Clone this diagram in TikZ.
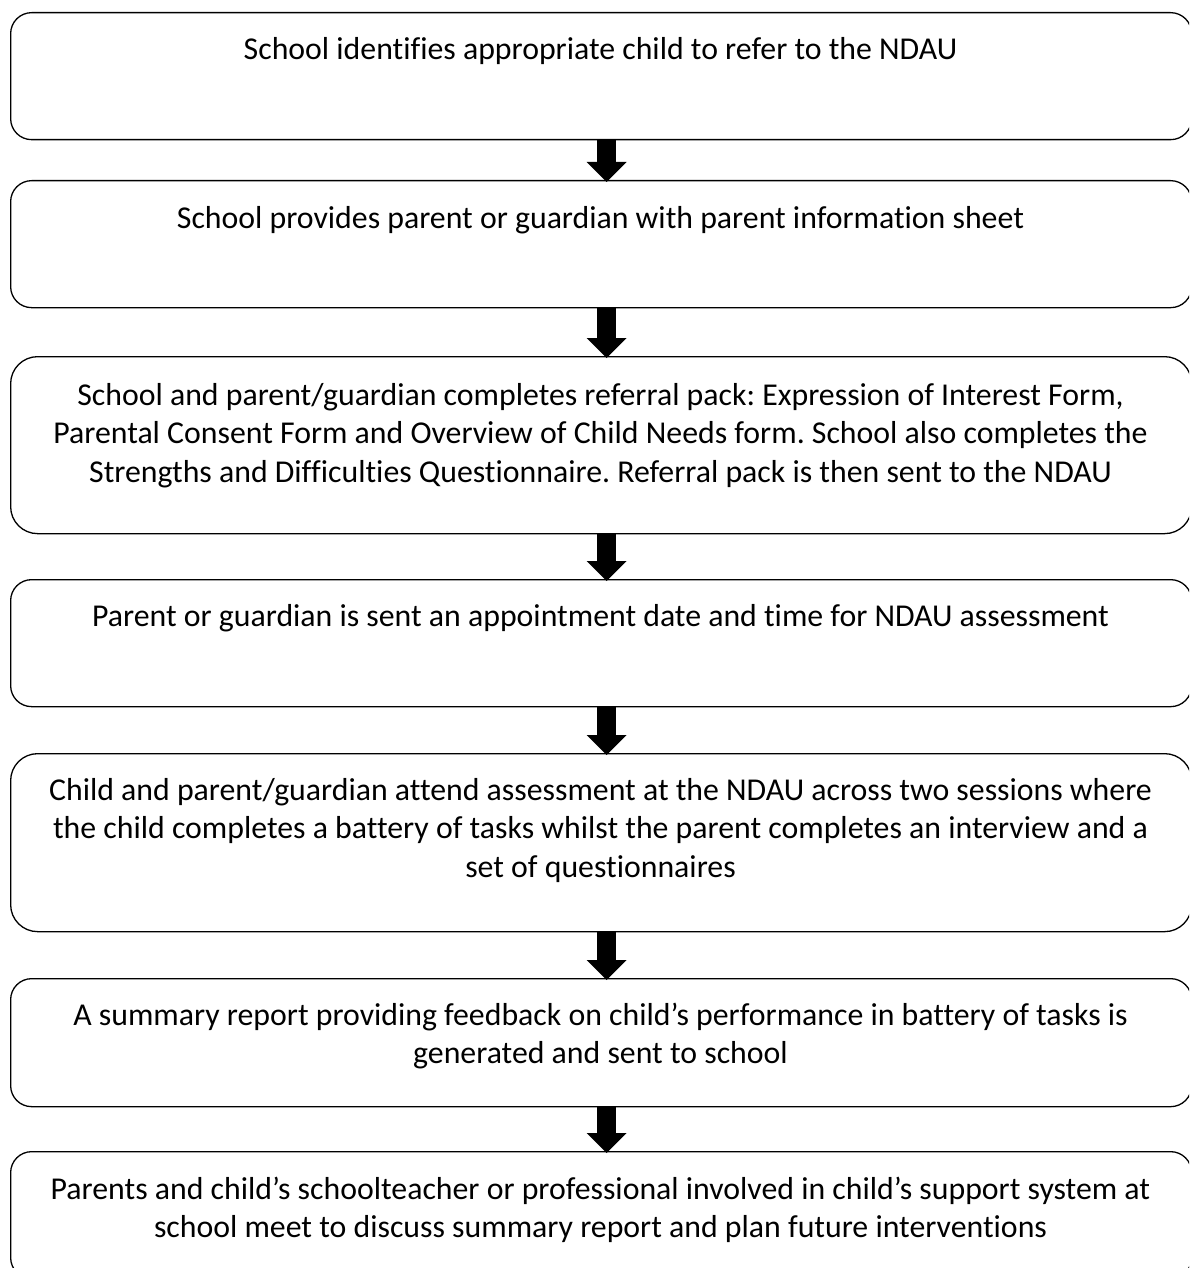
\documentclass[tikz,border=0pt]{standalone}
\usepackage{fontspec}
\setmainfont[Ligatures=NoCommon]{Carlito}
\usetikzlibrary{arrows.meta}
\frenchspacing
\begin{document}
\begin{tikzpicture}[x=1pt,y=-1pt,
  stepbox/.style={draw=black, line width=1.3pt, rounded corners=#1, inner sep=0pt, anchor=north west, minimum width=1181pt},
  steptext/.style={font=\fontsize{31.8}{38.5}\selectfont, align=center, anchor=base, inner sep=0pt},
  flow/.style={line width=19pt, -{Triangle[width=40pt,length=20pt,line width=0pt]}}]
\useasboundingbox (0,0) rectangle (1189,1268);
\clip (0,0) rectangle (1189,1268);
% boxes
\node[stepbox=21pt, minimum height=127pt] (b1) at (10,12) {};
\node[stepbox=21pt, minimum height=127pt] (b2) at (10,180) {};
\node[stepbox=27pt, minimum height=177pt] (b3) at (10,356) {};
\node[stepbox=21pt, minimum height=127pt] (b4) at (10,579) {};
\node[stepbox=27pt, minimum height=178pt] (b5) at (10,753) {};
\node[stepbox=21pt, minimum height=128pt] (b6) at (10,978) {};
\node[stepbox=21pt, minimum height=127pt] (b7) at (10,1151) {};
% texts (anchor base = last line)
\node[steptext] (t1) at (600.5,60) {School identifies appropriate child to refer to the NDAU};
\node[steptext] (t2) at (600.5,228) {School provides parent or guardian with parent information sheet};
\node[steptext] (t3) at (600.5,482) {School and parent/guardian completes referral pack: Expression of Interest Form,\\Parental Consent Form and Overview of Child Needs form. School also completes the\\Strengths and Difficulties Questionnaire. Referral pack is then sent to the NDAU};
\node[steptext] (t4) at (600.5,626) {Parent or guardian is sent an appointment date and time for NDAU assessment};
\node[steptext] (t5) at (600.5,877) {Child and parent/guardian attend assessment at the NDAU across two sessions where\\the child completes a battery of tasks whilst the parent completes an interview and a\\set of questionnaires};
\node[steptext] (t6) at (600.5,1063.5) {A summary report providing feedback on child’s performance in battery of tasks is\\generated and sent to school};
\node[steptext] (t7) at (600.5,1237.5) {Parents and child’s schoolteacher or professional involved in child’s support system at\\school meet to discuss summary report and plan future interventions};
% arrows
\draw[flow] ([xshift=5.5pt]b1.south) -- ([xshift=5.5pt,yshift=-2pt]b2.north);
\draw[flow] ([xshift=5.5pt]b2.south) -- ([xshift=5.5pt,yshift=-2pt]b3.north);
\draw[flow] ([xshift=5.5pt]b3.south) -- ([xshift=5.5pt,yshift=-2pt]b4.north);
\draw[flow] ([xshift=5.5pt]b4.south) -- ([xshift=5.5pt,yshift=-2pt]b5.north);
\draw[flow] ([xshift=5.5pt]b5.south) -- ([xshift=5.5pt,yshift=-2pt]b6.north);
\draw[flow] ([xshift=5.5pt]b6.south) -- ([xshift=5.5pt,yshift=-2pt]b7.north);
\end{tikzpicture}
\end{document}
